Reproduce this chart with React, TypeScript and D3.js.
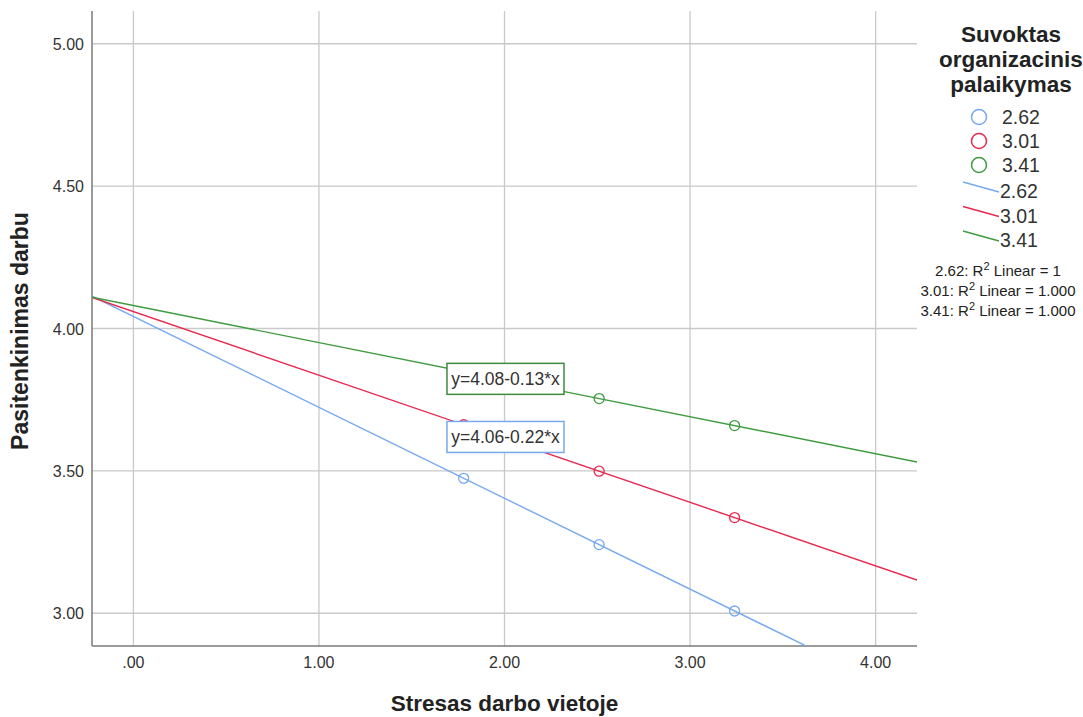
import React from "react";
import * as d3 from "d3";

const xValues = [1.78, 2.51, 3.24];
const groups = ["2.62", "3.01", "3.41"];
const seriesValues = [
  [3.474, 3.241, 3.008],
  [3.662, 3.499, 3.336],
  [3.849, 3.754, 3.659],
];
const colors = ["#76a9ee", "#e8294f", "#3f9b3f"];
const xTicks = [0, 1, 2, 3, 4];
const yTicks = [3, 3.5, 4, 4.5, 5];
const r2Labels = ["2.62: R", "3.01: R", "3.41: R"];
const r2Values = ["1", "1.000", "1.000"];
const eqLabels = ["y=4.08-0.13*x", "y=4.06-0.22*x"];
const eqColors = ["#3f8a3f", "#76a9ee"];

const W = 1083;
const H = 717;
const left = 92;
const right = 917;
const top = 11;
const bottom = 646;

const font = "Arial, 'Liberation Sans', sans-serif";

function fit(xs: number[], ys: number[]) {
  const mx = d3.mean(xs)!;
  const my = d3.mean(ys)!;
  let num = 0;
  let den = 0;
  xs.forEach((x, i) => {
    num += (x - mx) * (ys[i] - my);
    den += (x - mx) * (x - mx);
  });
  const b = num / den;
  return { a: my - b * mx, b };
}

export default function App() {
  const x = d3.scaleLinear().domain([-0.223, 4.223]).range([left, right]);
  const y = d3.scaleLinear().domain([2.885, 5.115]).range([bottom, top]);
  const fmt = (v: number) => (v === 0 ? ".00" : d3.format(".2f")(v));

  const fits = seriesValues.map((s) => fit(xValues, s));
  const lineGen = d3
    .line<[number, number]>()
    .x((d) => x(d[0]))
    .y((d) => y(d[1]));
  const [x0, x1] = x.domain();

  const boxX = x(1.69);
  const boxW = 117;
  const boxH = 31;
  const boxYs = [y(3.853) - 7, y(3.649) - 7];

  return (
    <svg width={W} height={H} style={{ position: "absolute", left: 0, top: 0 }} fontFamily={font}>
      <defs>
        <clipPath id="plot">
          <rect x={left} y={top} width={right - left} height={bottom - top} />
        </clipPath>
      </defs>
      <rect width={W} height={H} fill="#fff" />
      {xTicks.map((t) => (
        <line key={"gx" + t} x1={x(t)} x2={x(t)} y1={top} y2={bottom} stroke="#c9c9c9" strokeWidth={1.3} />
      ))}
      {yTicks.map((t) => (
        <line key={"gy" + t} x1={left} x2={right} y1={y(t)} y2={y(t)} stroke="#c9c9c9" strokeWidth={1.3} />
      ))}
      <line x1={left} x2={left} y1={top} y2={bottom} stroke="#7a7a7a" strokeWidth={1.5} />
      <line x1={left} x2={right} y1={bottom} y2={bottom} stroke="#7a7a7a" strokeWidth={1.5} />
      {xTicks.map((t) => (
        <text key={"tx" + t} x={x(t)} y={668} textAnchor="middle" fontSize={16} fill="#333">
          {fmt(t)}
        </text>
      ))}
      {yTicks.map((t) => (
        <text key={"ty" + t} x={84} y={y(t) + 6} textAnchor="end" fontSize={16} fill="#333">
          {fmt(t)}
        </text>
      ))}
      <text x={(left + right) / 2} y={711} textAnchor="middle" fontSize={22.5} fontWeight="bold" fill="#222">
        Stresas darbo vietoje
      </text>
      <text
        transform={`translate(28,${331}) rotate(-90)`}
        textAnchor="middle"
        fontSize={23}
        fontWeight="bold"
        fill="#222"
      >
        Pasitenkinimas darbu
      </text>
      <g clipPath="url(#plot)">
        {fits.map((f, i) => (
          <path
            key={"fl" + i}
            d={lineGen([
              [x0, f.a + f.b * x0],
              [x1, f.a + f.b * x1],
            ])!}
            fill="none"
            stroke={colors[i]}
            strokeWidth={1.4}
          />
        ))}
        {seriesValues.map((s, i) =>
          s.map((v, j) => (
            <circle
              key={`c${i}-${j}`}
              cx={x(xValues[j])}
              cy={y(v)}
              r={5}
              fill="none"
              stroke={colors[i]}
              strokeWidth={1.3}
            />
          ))
        )}
      </g>
      {eqLabels.map((l, i) => (
        <g key={"eq" + i}>
          <rect x={boxX} y={boxYs[i]} width={boxW} height={boxH} fill="#fff" stroke={eqColors[i]} strokeWidth={1.5} />
          <text x={boxX + boxW / 2} y={boxYs[i] + 22} textAnchor="middle" fontSize={17.5} fill="#333">
            {l}
          </text>
        </g>
      ))}
      {["Suvoktas", "organizacinis", "palaikymas"].map((t, i) => (
        <text key={"lt" + i} x={1011} y={42 + i * 25} textAnchor="middle" fontSize={22.5} fontWeight="bold" fill="#222">
          {t}
        </text>
      ))}
      {groups.map((g, i) => (
        <g key={"lc" + i}>
          <circle cx={979} cy={117 + i * 24} r={7.5} fill="none" stroke={colors[i]} strokeWidth={1.5} />
          <text x={1002} y={124 + i * 24} fontSize={19.5} fill="#333">
            {g}
          </text>
        </g>
      ))}
      {groups.map((g, i) => (
        <g key={"ll" + i}>
          <line x1={963} y1={182 + i * 24.5} x2={999} y2={192 + i * 24.5} stroke={colors[i]} strokeWidth={1.5} />
          <text x={1000} y={198 + i * 24.5} fontSize={19.5} fill="#333">
            {g}
          </text>
        </g>
      ))}
      {r2Labels.map((l, i) => (
        <text key={"r2" + i} x={998} y={276 + i * 20} textAnchor="middle" fontSize={15} fill="#222">
          {l}
          <tspan dy={-6} fontSize={11}>2</tspan>
          <tspan dy={6}>{" Linear = " + r2Values[i]}</tspan>
        </text>
      ))}
    </svg>
  );
}
